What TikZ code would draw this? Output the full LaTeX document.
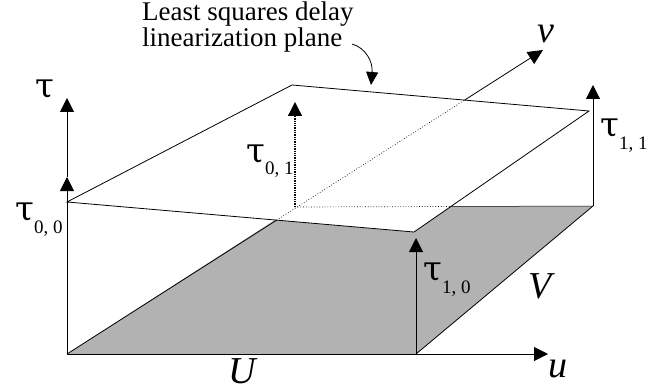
\documentclass[tikz,border=0pt]{standalone}
\usepackage{fontspec}
\setmainfont{Liberation Serif}
\newfontfamily\taufont{DejaVu Serif}
\usetikzlibrary{arrows.meta}

\newcommand{\taulabel}[1]{{\taufont\fontsize{34}{34}\selectfont τ}\raisebox{-13pt}{\fontsize{19}{19}\selectfont #1}}

\begin{document}
\begin{tikzpicture}[
    x=1pt, y=-1pt,
    >={Triangle[length=14pt, width=14pt]},
    edge/.style={line width=0.8pt},
    hidden/.style={line width=0.7pt, dotted},
    axis/.style={line width=1pt, ->},
    floor/.style={fill=black!30},
    plane/.style={fill=white, draw, line width=0.8pt},
    axislabel/.style={font=\fontsize{38}{38}\selectfont\itshape, anchor=base, inner sep=0pt},
    taulab/.style={anchor=base west, inner sep=0pt}
]
\useasboundingbox (0,0) rectangle (652,390);

% -------------------------
% CORNERS
% -------------------------
\coordinate (f00) at (67,354);
\coordinate (f10) at (416,354);
\coordinate (f11) at (593,206);
\coordinate (f01) at (295,207);

\coordinate (p00) at (67,202);
\coordinate (p10) at (414,232);
\coordinate (p11) at (589,111);
\coordinate (p01) at (292,85);

\coordinate (utip) at (548,354);
\coordinate (vtip) at (543,50);
\coordinate (ttip) at (67,98);
\coordinate (t00) at (67,177);
\coordinate (t01) at (295,102);
\coordinate (t10) at (416,238);
\coordinate (t11) at (593,85);

\coordinate (cross) at (intersection of f01--f11 and p10--p11);
\coordinate (vlow) at (intersection of f00--vtip and p00--p10);
\coordinate (vhigh) at (intersection of f00--vtip and p01--p11);

% -------------------------
% FLOOR AND PLANE
% -------------------------
\fill[floor] (f00) -- (f10) -- (f11) -- (f01) -- cycle;
\filldraw[plane] (p00) -- (p10) -- (p11) -- (p01) -- cycle;

\draw[edge] (f10) -- (f11);
\draw[edge, line width=0.5pt] (cross) -- (f11);
\draw[hidden] (f01) -- (cross);

% v axis, partly behind the plane
\draw[edge] (f00) -- (vlow);
\draw[hidden] (vlow) -- (vhigh);
\draw[axis, line width=0.8pt, >={Triangle[length=15pt, width=14pt]}] (vhigh) -- (vtip);

% -------------------------
% AXES AND DELAYS
% -------------------------
\draw[axis] (f00) -- (utip);
\draw[axis] (f00) -- (t00);
\draw[axis] (t00) -- (ttip);
\draw[->, line width=1.3pt, densely dotted] (f01) -- (t01);
\draw[axis] (f10) -- (t10);
\draw[axis] (f11) -- (t11);

% -------------------------
% LABELS
% -------------------------
\node[taulab] (tau) at (35,98) {\taufont\fontsize{34}{34}\selectfont τ};
\node[taulab] (tau00) at (15,220) {\taulabel{0, 0}};
\node[taulab] (tau01) at (246,162) {\taulabel{0, 1}};
\node[taulab] (tau10) at (423,280) {\taulabel{1, 0}};
\node[taulab] (tau11) at (600,137) {\taulabel{1, 1}};

\node[axislabel] (labU) at (242,383) {U};
\node[axislabel] (labV) at (540,298) {V};
\node[axislabel] (labu) at (558,377) {u};
\node[axislabel] (labv) at (546,43) {v};

\node[anchor=north west, inner sep=0pt, align=left,
      font=\fontsize{27}{26}\selectfont] (note) at (142,2)
    {Least squares delay\\linearization plane};

\coordinate (cstart) at (352,44);
\coordinate (ctip) at (371,85);
\draw[->, line width=0.8pt, >={Triangle[length=13pt, width=12pt]}]
    (cstart) .. controls (366,48) and (373,62) .. (ctip);

\end{tikzpicture}
\end{document}
